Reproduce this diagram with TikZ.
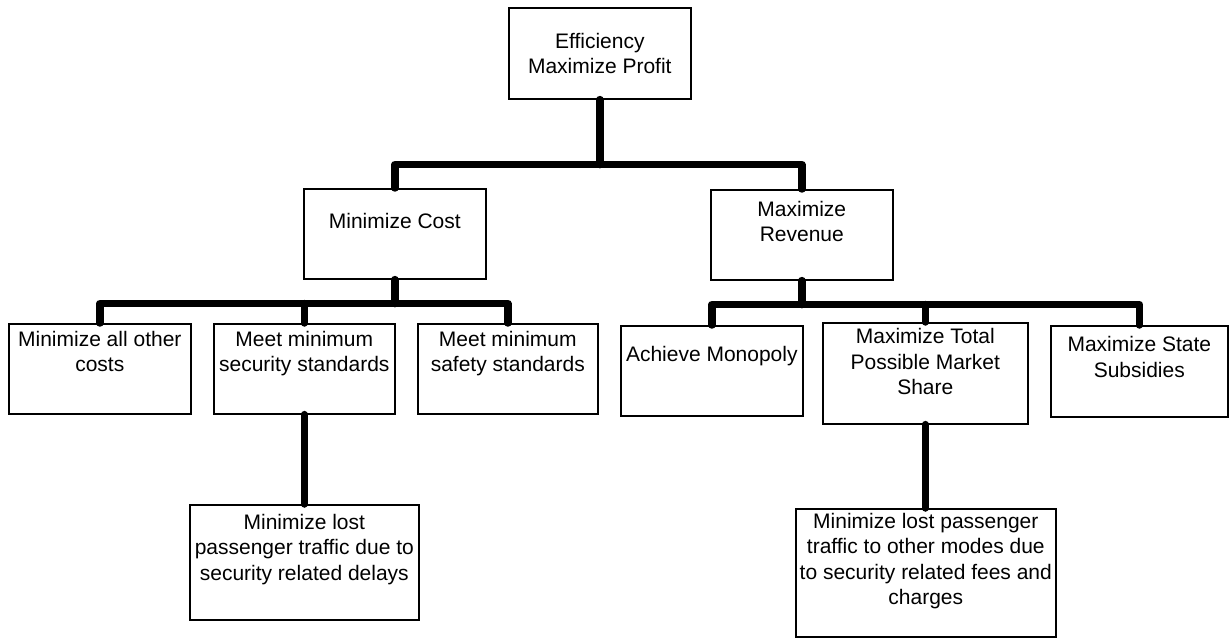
\documentclass[tikz,border=0pt]{standalone}
\usepackage{fontspec}
\setmainfont{Liberation Sans}
\begin{document}
\begin{tikzpicture}[x=1pt,y=-1pt,
  bx/.style={draw, line width=1.6pt, inner sep=0pt, anchor=north west},
  tx/.style={anchor=north, inner sep=0pt, align=center, font=\fontsize{21}{25.5}\selectfont},
  conn/.style={line width=7.5pt, line cap=round, line join=round}]
\useasboundingbox (0,0) rectangle (1231,639);
% level 0
\node[bx, minimum width=182pt, minimum height=91pt] (T) at (508,7) {};
\node[tx] (Tt) at ([yshift=-26pt]T.north) {Efficiency\\Maximize Profit};
% level 1
\node[bx, minimum width=182pt, minimum height=90pt] (C) at (303,188) {};
\node[tx] (Ct) at ([yshift=-25pt]C.north) {Minimize Cost};
\node[bx, minimum width=182pt, minimum height=90pt] (R) at (710,189) {};
\node[tx] (Rt) at ([yshift=-12pt]R.north) {Maximize\\Revenue};
% level 2 left
\node[bx, minimum width=182pt, minimum height=90pt] (A1) at (8,323) {};
\node[tx] (A1t) at ([yshift=-8pt]A1.north) {Minimize all other\\costs};
\node[bx, minimum width=181pt, minimum height=90pt] (A2) at (213,323) {};
\node[tx] (A2t) at ([yshift=-8pt]A2.north) {Meet minimum\\security standards};
\node[bx, minimum width=180pt, minimum height=90pt] (A3) at (417,323) {};
\node[tx] (A3t) at ([yshift=-8pt]A3.north) {Meet minimum\\safety standards};
% level 2 right
\node[bx, minimum width=182pt, minimum height=90pt] (B1) at (620,325) {};
\node[tx] (B1t) at ([yshift=-21pt]B1.north) {Achieve Monopoly};
\node[bx, minimum width=205pt, minimum height=101pt] (B2) at (822,322) {};
\node[tx] (B2t) at ([yshift=-6.5pt]B2.north) {Maximize Total\\Possible Market\\Share};
\node[bx, minimum width=177pt, minimum height=91pt] (B3) at (1050,325) {};
\node[tx] (B3t) at ([yshift=-11.5pt]B3.north) {Maximize State\\Subsidies};
% level 3
\node[bx, minimum width=229pt, minimum height=115pt] (L) at (189,504) {};
\node[tx] (Lt) at ([yshift=-10pt]L.north) {Minimize lost\\passenger traffic due to\\security related delays};
\node[bx, minimum width=260pt, minimum height=128pt] (M) at (795,508) {};
\node[tx] (Mt) at ([yshift=-5pt]M.north) {Minimize lost passenger\\traffic to other modes due\\to security related fees and\\charges};
% connectors
\draw[conn] (T.south) -- ++(0,65) coordinate (j0);
\draw[conn] (C.north) |- (j0) -| (R.north);
\draw[conn] (C.south) -- ++(0,24) coordinate (j1);
\draw[conn] (A1.north) |- (j1) -| (A3.north);
\draw[conn] (A2.north) -- (A2.north |- j1);
\draw[conn] (R.south) -- ++(0,24) coordinate (j2);
\draw[conn] (B1.north) |- (j2) -| (B3.north);
\draw[conn] (B2.north) -- (B2.north |- j2);
\draw[conn] (A2.south) -- (A2.south |- L.north);
\draw[conn] (B2.south) -- (B2.south |- M.north);
\end{tikzpicture}
\end{document}
